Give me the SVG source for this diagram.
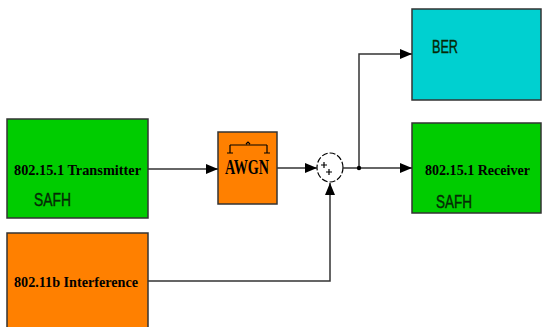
<svg xmlns="http://www.w3.org/2000/svg" width="542" height="327" viewBox="0 0 542 327">
<style>
.box{stroke:#333;stroke-width:1.5}
.green{fill:#00cc00}
.orange{fill:#ff8000}
.cyan{fill:#00d0d0}
.lbl{font-family:"Liberation Serif",serif;font-weight:bold;font-size:15px;fill:#000}
.big{font-size:20px}
.sub{font-family:"Liberation Sans",sans-serif;font-size:18px;fill:#062806;stroke:#062806;stroke-width:0.4}
.wire{fill:none;stroke:#333;stroke-width:1.5}
</style>
<defs>
<marker id="arr" markerWidth="12" markerHeight="10" refX="12" refY="5" orient="auto" markerUnits="userSpaceOnUse">
<path d="M0,0 L12,5 L0,10 Z" fill="#000"/>
</marker>
</defs>
<rect width="542" height="327" fill="#fff"/>
<g id="transmitter">
<rect class="box green" x="7" y="119" width="141" height="99"/>
<text class="lbl" x="14" y="175" textLength="127" lengthAdjust="spacingAndGlyphs">802.15.1 Transmitter</text>
<text class="sub" x="34" y="206" textLength="37" lengthAdjust="spacingAndGlyphs">SAFH</text>
</g>
<g id="interference">
<rect class="box orange" x="7" y="233" width="141" height="100"/>
<text class="lbl" x="14" y="287" textLength="124" lengthAdjust="spacingAndGlyphs">802.11b Interference</text>
</g>
<g id="awgn">
<rect class="box orange" x="218" y="132" width="59" height="72"/>
<path d="M230,145 H267 M230,145 v8 M227,153 h6 M267,145 v8 M264,153 h6 M246,144 l2,-2 l2,2" fill="none" stroke="#000" stroke-width="1.2"/>
<text class="lbl big" x="225" y="174" textLength="44" lengthAdjust="spacingAndGlyphs">AWGN</text>
</g>
<g id="sum">
<ellipse cx="330" cy="167.5" rx="13" ry="14.5" fill="#fff" stroke="#000" stroke-width="1.2" stroke-dasharray="6,2"/>
<path d="M321,165 h6 M324,162 v6 M326,172 h6 M329,169 v6" stroke="#000" stroke-width="1.2"/>
</g>
<g id="ber">
<rect class="box cyan" x="412" y="9" width="129" height="91"/>
<text class="sub" x="432" y="53" textLength="26" lengthAdjust="spacingAndGlyphs">BER</text>
</g>
<g id="receiver">
<rect class="box green" x="412" y="123" width="129" height="90"/>
<text class="lbl" x="425" y="175" textLength="105" lengthAdjust="spacingAndGlyphs">802.15.1 Receiver</text>
<text class="sub" x="436" y="208" textLength="36" lengthAdjust="spacingAndGlyphs">SAFH</text>
</g>
<g id="connectors">
<path class="wire" d="M148,169 H218" marker-end="url(#arr)"/>
<path class="wire" d="M277,168 H317" marker-end="url(#arr)"/>
<path class="wire" d="M148,281 H330 V183" marker-end="url(#arr)"/>
<path class="wire" d="M343,168 H412" marker-end="url(#arr)"/>
<path class="wire" d="M359,168 V54 H412" marker-end="url(#arr)"/>
<circle cx="359" cy="168" r="2.2" fill="#000"/>
</g>
</svg>
